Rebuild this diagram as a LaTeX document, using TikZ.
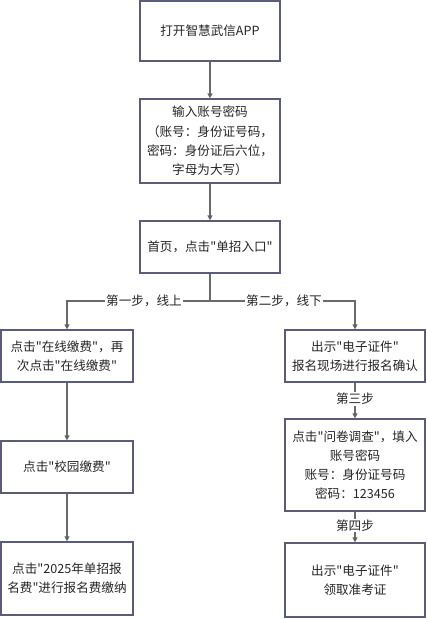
\documentclass[tikz,border=0pt]{standalone}
\usepackage{fontspec}
\setmainfont{Noto Sans CJK SC}[Ligatures=TeXOff]
\usetikzlibrary{arrows.meta}
\definecolor{boxline}{HTML}{5A5C78}
\definecolor{conn}{HTML}{6A6A6A}
\begin{document}
\begin{tikzpicture}[x=1pt,y=-1pt,
  box/.style={draw=boxline,line width=1.2pt,fill=white,align=center,inner sep=0pt,
    font=\fontsize{12.6}{19.2}\selectfont,text=black!85},
  arr/.style={draw=conn,line width=1.1pt,-{Triangle[length=5pt,width=5pt,fill=black!80]}},
  ln/.style={draw=conn,line width=1.1pt},
  lab/.style={fill=white,inner sep=1pt,font=\fontsize{12.6}{15}\selectfont,text=black!85}]
\useasboundingbox (0,0) rectangle (427,619);
\node[box,minimum width=140pt,minimum height=60pt] (b1) at (210,31) {打开智慧武信APP};
\node[box,minimum width=140pt,minimum height=84pt] (b2) at (210,141) {输入账号密码\\（账号：身份证号码，\\密码：身份证后六位，\\字母为大写）};
\node[box,minimum width=140pt,minimum height=52pt] (b3) at (210,247) {首页，点击"单招入口"};
\node[box,minimum width=132pt,minimum height=52pt] (l1) at (67,356) {点击"在线缴费"，再\\次点击"在线缴费"};
\node[box,minimum width=132pt,minimum height=52pt] (l2) at (67,467) {点击"校园缴费"};
\node[box,minimum width=132pt,minimum height=73pt] (l3) at (67,578.5) {点击"2025年单招报\\名费"进行报名费缴纳};
\node[box,minimum width=140pt,minimum height=52pt] (r1) at (355,356) {出示"电子证件"\\报名现场进行报名确认};
\node[box,minimum width=140pt,minimum height=92pt] (r2) at (355,465) {点击"问卷调查"，填入\\账号密码\\账号：身份证号码\\密码：123456};
\node[box,minimum width=140pt,minimum height=74pt] (r3) at (355,580) {出示"电子证件"\\领取准考证};
\coordinate (split) at (210,301);
\draw[arr] (b1) -- (b2);
\draw[arr] (b2) -- (b3);
\draw[ln] (b3) -- (split);
\draw[arr] (split) -| (l1.north);
\draw[arr] (split) -| (r1.north);
\node[lab] (t1) at (144,301) {第一步，线上};
\node[lab] (t2) at (284,301) {第二步，线下};
\draw[arr] (l1) -- (l2);
\draw[arr] (l2) -- (l3);
\draw[arr] (r1) -- (r2) node[lab,pos=0.45] (t3) {第三步};
\draw[arr] (r2) -- (r3) node[lab,pos=0.45] (t4) {第四步};
\end{tikzpicture}
\end{document}
